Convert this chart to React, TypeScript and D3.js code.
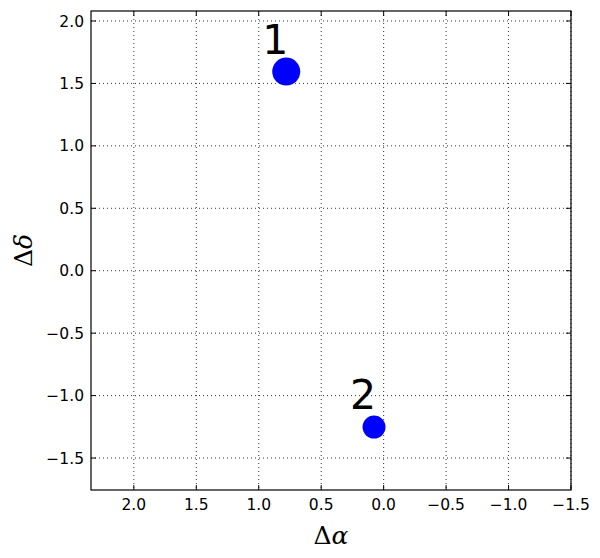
import { useEffect, useRef } from "react";
import * as d3 from "d3";

// data
const pointLabels = ["1", "2"];
const dAlpha = [0.78, 0.077];
const dDelta = [1.595, -1.252];
const pointSizes = [14, 11.5];

const xTicks = [2.0, 1.5, 1.0, 0.5, 0.0, -0.5, -1.0, -1.5];
const yTicks = [2.0, 1.5, 1.0, 0.5, 0.0, -0.5, -1.0, -1.5];
const xDomain = [2.343, -1.5];
const yDomain = [-1.756, 2.08];

const W = 600;
const H = 558;

const fmt = (v: number) => v.toFixed(1).replace("-", "\u2212");

const App = () => {
  const ref = useRef<SVGSVGElement>(null);

  useEffect(() => {
    const svg = d3.select(ref.current);
    svg.selectAll("*").remove();

    const margin = { top: 11, right: 29, bottom: 68, left: 91 };
    const width = W - margin.left - margin.right;
    const height = H - margin.top - margin.bottom;

    const x = d3.scaleLinear().domain(xDomain).range([0, width]);
    const y = d3.scaleLinear().domain(yDomain).range([height, 0]);

    const g = svg
      .append("g")
      .attr("transform", `translate(${margin.left},${margin.top})`);

    // grid
    g.selectAll(".gx")
      .data(xTicks)
      .join("line")
      .attr("x1", (d) => x(d))
      .attr("x2", (d) => x(d))
      .attr("y1", 0)
      .attr("y2", height)
      .attr("stroke", "#000")
      .attr("stroke-width", 0.8)
      .attr("stroke-dasharray", "1,3");
    g.selectAll(".gy")
      .data(yTicks)
      .join("line")
      .attr("y1", (d) => y(d))
      .attr("y2", (d) => y(d))
      .attr("x1", 0)
      .attr("x2", width)
      .attr("stroke", "#000")
      .attr("stroke-width", 0.8)
      .attr("stroke-dasharray", "1,3");

    // inward ticks on all sides
    const tk = 5;
    xTicks.forEach((t) => {
      g.append("line").attr("x1", x(t)).attr("x2", x(t)).attr("y1", height).attr("y2", height - tk).attr("stroke", "#000");
      g.append("line").attr("x1", x(t)).attr("x2", x(t)).attr("y1", 0).attr("y2", tk).attr("stroke", "#000");
    });
    yTicks.forEach((t) => {
      g.append("line").attr("y1", y(t)).attr("y2", y(t)).attr("x1", 0).attr("x2", tk).attr("stroke", "#000");
      g.append("line").attr("y1", y(t)).attr("y2", y(t)).attr("x1", width).attr("x2", width - tk).attr("stroke", "#000");
    });

    // tick labels
    g.selectAll(".xl")
      .data(xTicks)
      .join("text")
      .attr("x", (d) => x(d))
      .attr("y", height + 20)
      .attr("text-anchor", "middle")
      .style("font-family", "DejaVu Sans")
      .style("font-size", "15.5px")
      .text(fmt);
    g.selectAll(".yl")
      .data(yTicks)
      .join("text")
      .attr("x", -7)
      .attr("y", (d) => y(d))
      .attr("dy", "0.36em")
      .attr("text-anchor", "end")
      .style("font-family", "DejaVu Sans")
      .style("font-size", "15.5px")
      .text(fmt);

    // points
    g.selectAll(".pt")
      .data(dAlpha)
      .join("circle")
      .attr("cx", (d) => x(d))
      .attr("cy", (d, i) => y(dDelta[i]))
      .attr("r", (d, i) => pointSizes[i])
      .attr("fill", "#0000ff");

    g.selectAll(".lbl")
      .data(pointLabels)
      .join("text")
      .attr("x", (d, i) => x(dAlpha[i]) - 11)
      .attr("y", (d, i) => y(dDelta[i]) - 18)
      .attr("text-anchor", "middle")
      .style("font-family", "DejaVu Sans")
      .style("font-size", "41px")
      .text((d) => d);

    // frame
    g.append("rect")
      .attr("width", width)
      .attr("height", height)
      .attr("fill", "none")
      .attr("stroke", "#000")
      .attr("stroke-width", 1.2);

    // axis labels
    const xl = g
      .append("text")
      .attr("x", width / 2)
      .attr("y", height + 54)
      .attr("text-anchor", "middle")
      .style("font-family", "DejaVu Serif")
      .style("font-size", "25px");
    xl.append("tspan").text("\u0394");
    xl.append("tspan").style("font-style", "italic").text("\u03b1");

    const yl = g
      .append("text")
      .attr("transform", `translate(${-margin.left + 32},${height / 2}) rotate(-90)`)
      .attr("text-anchor", "middle")
      .style("font-family", "DejaVu Serif")
      .style("font-size", "25px");
    yl.append("tspan").text("\u0394");
    yl.append("tspan").style("font-style", "italic").text("\u03b4");
  }, []);

  return (
    <svg
      ref={ref}
      width={W}
      height={H}
      style={{ display: "block", position: "absolute", left: 0, top: 0, background: "#fff" }}
    />
  );
};

export default App;
